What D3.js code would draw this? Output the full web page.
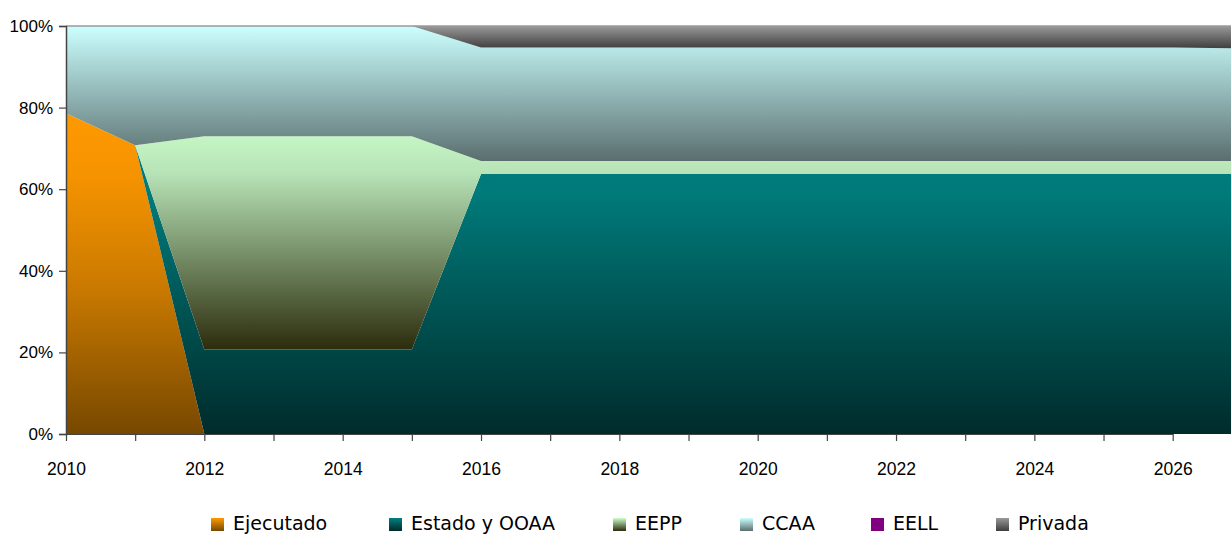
<!DOCTYPE html>
<html><head><meta charset="utf-8">
<script src="https://cdn.jsdelivr.net/npm/d3@7"></script>
<style>html,body{margin:0;padding:0;background:#fff;overflow:hidden}</style>
</head><body>
<svg id="chart" width="1231" height="536"></svg>
<script>
const years     = [2010,2011,2012,2013,2014,2015,2016,2017,2018,2019,2020,2021,2022,2023,2024,2025,2026,2027];
const ejecutado = [78.6,70.8,0,0,0,0,0,0,0,0,0,0,0,0,0,0,0,0];
const estado    = [0,0,20.7,20.7,20.7,20.7,63.7,63.7,63.7,63.7,63.7,63.7,63.7,63.7,63.7,63.7,63.7,63.7];
const eepp      = [0,0,52.3,52.3,52.3,52.3,3.2,3.2,3.2,3.2,3.2,3.2,3.2,3.2,3.2,3.2,3.2,3.2];
const ccaa      = [21.4,29.2,27,27,27,27,27.8,27.8,27.8,27.8,27.8,27.8,27.8,27.8,27.8,27.8,27.8,27.6];
const eell      = [0,0,0,0,0,0,0,0,0,0,0,0,0,0,0,0,0,0];
const privada   = [0,0,0,0,0,0,5.3,5.3,5.3,5.3,5.3,5.3,5.3,5.3,5.3,5.3,5.3,5.5];
const seriesNames = ["Ejecutado","Estado y OOAA","EEPP","CCAA","EELL","Privada"];
const yTicks = [0,20,40,60,80,100];
const xLabelYears = [2010,2012,2014,2016,2018,2020,2022,2024,2026];

const gradStops = {
  "Ejecutado":     [["0%","#FF9900"],["20%","#F59300"],["55%","#C97900"],["100%","#774800"]],
  "Estado y OOAA": [["0%","#008080"],["25%","#007A7A"],["100%","#002B2B"]],
  "EEPP":          [["0%","#CCFFCC"],["25%","#B8E4B8"],["100%","#2C2C0C"]],
  "CCAA":          [["0%","#CCFFFF"],["100%","#5A6E6E"]],
  "EELL":          [["0%","#800080"],["100%","#800080"]],
  "Privada":       [["0%","#999999"],["100%","#3E3E3E"]]
};

const rows = years.map((y,i)=>({year:y,"Ejecutado":ejecutado[i],"Estado y OOAA":estado[i],"EEPP":eepp[i],"CCAA":ccaa[i],"EELL":eell[i],"Privada":privada[i]}));

const svg = d3.select("#chart");
const x = d3.scaleLinear().domain([2010,2026]).range([66,1172.7]);
const y = d3.scaleLinear().domain([0,100]).range([434,26]);

const defs = svg.append("defs");
seriesNames.forEach((n,i)=>{
  const g = defs.append("linearGradient").attr("id","g"+i).attr("x1",0).attr("y1",0).attr("x2",0).attr("y2",1);
  gradStops[n].forEach(s=>g.append("stop").attr("offset",s[0]).attr("stop-color",s[1]));
});

const stack = d3.stack().keys(seriesNames);
const layers = stack(rows);
const area = d3.area().x(d=>x(d.data.year)).y0(d=>y(d[0])).y1(d=>y(d[1]));

svg.append("g").selectAll("path").data(layers).join("path")
  .attr("d",area).attr("fill",(d,i)=>"url(#g"+i+")")
  .attr("display",d=>d3.max(d,v=>v[1]-v[0])>0?null:"none");

// top border of plot
svg.append("line").attr("x1",66).attr("x2",1231).attr("y1",y(100)).attr("y2",y(100)).attr("stroke","#9a9a9a").attr("stroke-width",1.5);

// y axis
const yAxis = svg.append("g").attr("transform","translate(66,0)")
  .call(d3.axisLeft(y).tickValues(yTicks).tickFormat(d=>d+"%").tickSize(7).tickPadding(6));
yAxis.select(".domain").attr("stroke","#444").attr("stroke-width",1.5);
yAxis.selectAll(".tick line").attr("stroke","#444").attr("stroke-width",1.2);
yAxis.selectAll("text").attr("font-family","'Liberation Sans',Arial,sans-serif").attr("font-size","17px").attr("fill","#000");

// x axis
const xAxis = svg.append("g").attr("transform","translate(0,434)")
  .call(d3.axisBottom(x).tickValues(years).tickFormat(d=>xLabelYears.includes(d)?d:"").tickSize(7).tickPadding(22).tickSizeOuter(0));
xAxis.select(".domain").attr("stroke","#444").attr("stroke-width",1.2);
xAxis.selectAll(".tick line").attr("stroke","#444").attr("stroke-width",1.2);
xAxis.selectAll("text").attr("font-family","'Liberation Sans',Arial,sans-serif").attr("font-size","17.5px").attr("fill","#000");

// legend
const legX = [211,389,613,740,871,996];
const leg = svg.append("g");
seriesNames.forEach((n,i)=>{
  const g = defs.append("linearGradient").attr("id","lg"+i).attr("x1",0).attr("y1",0).attr("x2",0).attr("y2",1);
  const st = gradStops[n];
  g.append("stop").attr("offset","0%").attr("stop-color",st[0][1]);
  g.append("stop").attr("offset","100%").attr("stop-color",st[st.length-1][1]);
  leg.append("rect").attr("x",legX[i]).attr("y",518).attr("width",13).attr("height",13).attr("fill","url(#lg"+i+")");
  leg.append("text").attr("x",legX[i]+22).attr("y",530).text(n)
    .attr("font-family","'DejaVu Sans',Verdana,sans-serif").attr("font-size","19px").attr("fill","#000");
});
</script>
</body></html>
